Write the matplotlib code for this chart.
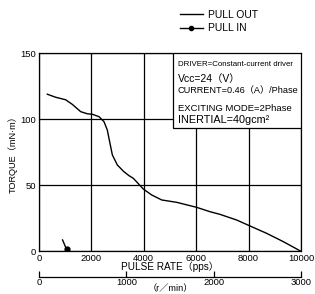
import matplotlib
matplotlib.use("Agg")
import matplotlib.pyplot as plt
from matplotlib.lines import Line2D
from matplotlib.patches import Rectangle

FAM = ['Liberation Sans', 'Noto Sans CJK JP', 'DejaVu Sans']
plt.rcParams['font.family'] = FAM

# pull-out torque curve (pps, mN·m)
pull_out_pps = [317, 637, 1018, 1272, 1590, 1845, 2037, 2290, 2481, 2607, 2697, 2800,
                2990, 3230, 3435, 3600, 3981, 4300, 4683, 5256, 6019, 6527, 6908,
                7545, 8053, 8690, 9326, 10000]
pull_out_torque = [119, 116.7, 114.8, 111.3, 105.8, 104.2, 103.8, 102, 98.2, 91.9, 83, 73,
                   65.4, 60.5, 57.3, 55.3, 47.2, 42.7, 38.9, 37.1, 33.3, 30, 28,
                   23.7, 19.2, 13.6, 7.3, 0]

# pull-in (only a short segment near the origin)
pull_in_pps = [900, 1050]
pull_in_torque = [8.6, 1.5]

x_ticks = [0, 2000, 4000, 6000, 8000, 10000]
y_ticks = [0, 50, 100, 150]
rpm_ticks = [0, 1000, 2000, 3000]

info_lines = [
    ("DRIVER=Constant-current driver", 5.7),
    ("Vcc=24（V）", 7.5),
    ("CURRENT=0.46（A）/Phase", 6.6),
    ("EXCITING MODE=2Phase", 6.8),
    ("INERTIAL=40gcm²", 7.8),
]
info_base = [0.936, 0.857, 0.798, 0.710, 0.650]

fig = plt.figure(figsize=(3.15, 2.94), dpi=100)
ax = fig.add_axes([0.1238, 0.1452, 0.8318, 0.6735])

ax.plot(pull_out_pps, pull_out_torque, color='black', lw=1.0, zorder=3)
ax.plot(pull_in_pps, pull_in_torque, color='black', lw=1.0, zorder=3)
ax.plot(pull_in_pps[-1:], pull_in_torque[-1:], 'o', color='black', ms=3.5, zorder=4)

ax.set_xlim(0, 10000)
ax.set_ylim(0, 150)
ax.set_xticks(x_ticks)
ax.set_yticks(y_ticks)
ax.tick_params(length=0, labelsize=6.8, pad=2)
ax.grid(True, color='black', lw=0.9)
for s in ax.spines.values():
    s.set_linewidth(0.9)

ax.set_xlabel("PULSE RATE（pps）", fontsize=7.2, labelpad=-1)
ax.set_ylabel("TORQUE（mN·m）", fontsize=6.6, labelpad=2)

# info box
ax.add_patch(Rectangle((0.51, 0.621), 0.49, 0.379, transform=ax.transAxes,
                       facecolor='white', edgecolor='black', lw=0.9, zorder=5))
for (txt, fs), yy in zip(info_lines, info_base):
    fam = ['Liberation Sans Narrow'] + FAM if fs < 6 else FAM
    ax.text(0.53, yy, txt, transform=ax.transAxes, fontsize=fs, family=fam,
            va='baseline', ha='left', zorder=6)

# rpm scale under the axes
sec = ax.secondary_xaxis(-0.128, functions=(lambda x: x * 0.3, lambda x: x / 0.3))
sec.set_xticks(rpm_ticks)
sec.tick_params(direction='in', length=4, width=0.9, labelsize=6.8, pad=1)
sec.spines['bottom'].set_linewidth(0.9)
sec.set_xlabel("（r／min）", fontsize=6.6, labelpad=-2)

# legend above the plot
handles = [Line2D([], [], color='black', lw=1.0),
           Line2D([], [], color='black', lw=1.0, marker='o', ms=3)]
fig.legend(handles, ["PULL OUT", "PULL IN"], loc='upper left',
           bbox_to_anchor=(0.555, 0.985), frameon=False, fontsize=7.5,
           handlelength=2.2, handletextpad=0.5, labelspacing=0.35, borderpad=0)

fig.savefig("out.png", dpi=100)
